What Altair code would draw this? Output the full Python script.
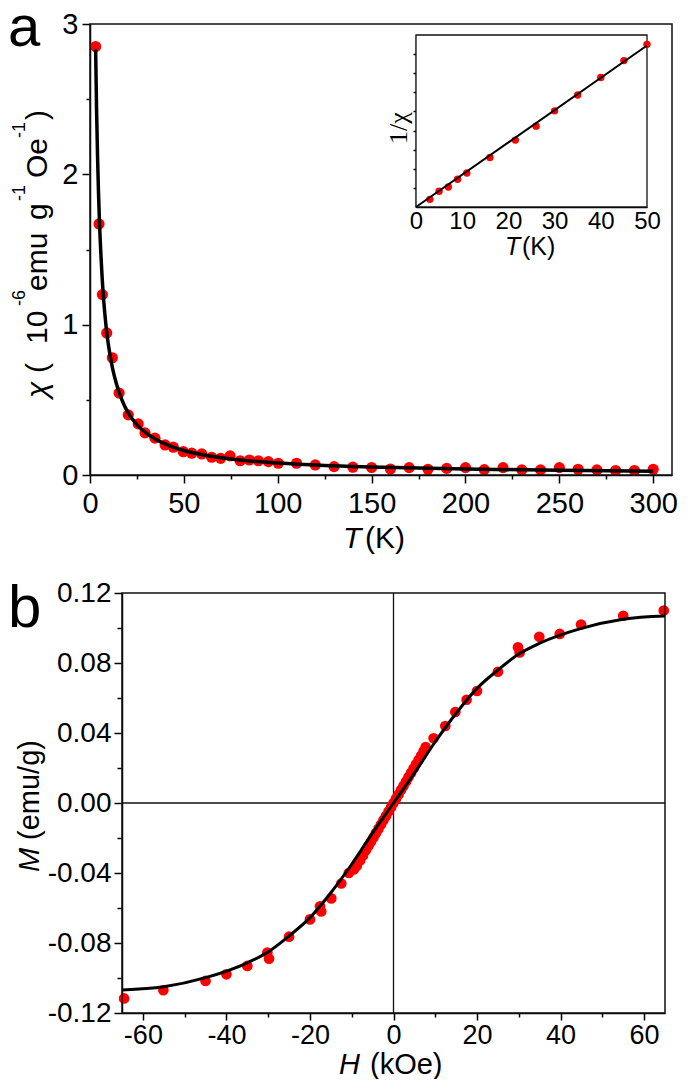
import altair as alt
import pandas as pd

# ---------------- Panel a: chi vs T ----------------
chi_T = [3, 4.8, 6.6, 8.9, 11.9, 15.5, 20.4, 25.7, 29.3, 34.6,
         40, 44.4, 49.7, 54.2, 59.5, 64.8, 69.6, 74.6, 80, 84.9,
         89.7, 95, 100.3, 110, 120, 130, 140, 150, 160, 170,
         180, 190, 200, 210, 220, 230, 240, 250, 260, 270,
         280, 290, 300]
chi_val = [2.85, 1.67, 1.20, 0.945, 0.78, 0.545, 0.40, 0.34, 0.28, 0.245,
           0.20, 0.185, 0.155, 0.145, 0.14, 0.118, 0.111, 0.127, 0.095, 0.10,
           0.095, 0.089, 0.078, 0.078, 0.067, 0.056, 0.052, 0.05, 0.04, 0.049,
           0.038, 0.044, 0.049, 0.036, 0.049, 0.034, 0.034, 0.049, 0.038, 0.034,
           0.03, 0.03, 0.038]
fit_T = [3, 3.5, 4, 4.5, 5, 6, 7, 8, 9, 10, 12, 14, 17, 20, 25, 30, 35, 40,
         50, 60, 70, 80, 100, 125, 150, 200, 250, 300]
fit_chi = [2.83, 2.43, 2.13, 1.89, 1.70, 1.42, 1.21, 1.06, 0.94, 0.85, 0.71,
           0.61, 0.50, 0.42, 0.335, 0.278, 0.238, 0.207, 0.163, 0.135, 0.115,
           0.100, 0.080, 0.064, 0.054, 0.040, 0.031, 0.025]

# inset: 1/chi vs T (arbitrary units)
inv_T = [3, 5, 7, 9, 11, 16, 21.5, 26, 30, 35, 40, 45, 50]
inv_chi = [0.40, 0.82, 1.05, 1.45, 1.78, 2.59, 3.50, 4.23, 5.03, 5.86, 6.78, 7.66, 8.51]
inv_fit_T = [0, 50]
inv_fit = [0, 8.45]

# ---------------- Panel b: M vs H ----------------
H_pts = [-64.5, -55.1, -45.0, -40.0, -35.0, -30.2, -29.8, -25.0, -20.0, -17.6,
         -17.3, -14.9, -12.5, -10.7, -9.5, -8.8, -8.0, -7.3, -6.6, -6.0,
         -5.4, -4.8, -4.2, -3.6, -3.0, -2.4, -1.8, -1.2, -0.6, 0.0,
         0.6, 1.2, 1.8, 2.4, 3.0, 3.6, 4.2, 4.8, 5.4, 6.0,
         6.6, 7.2, 7.7, 9.6, 12.4, 14.8, 17.5, 20.0, 25.0, 29.8,
         30.2, 34.9, 39.8, 44.9, 55.0, 64.7]
M_pts = [-0.1117, -0.1070, -0.1017, -0.0979, -0.0931, -0.0855, -0.0890, -0.0764, -0.0665, -0.0590,
         -0.0620, -0.0545, -0.0460, -0.0400, -0.0380, -0.0360, -0.0328, -0.0300, -0.0270, -0.0246,
         -0.0221, -0.0197, -0.0172, -0.0148, -0.0123, -0.0098, -0.0074, -0.0049, -0.0025, 0.0,
         0.0025, 0.0049, 0.0074, 0.0098, 0.0123, 0.0148, 0.0172, 0.0197, 0.0221, 0.0246,
         0.0270, 0.0295, 0.0320, 0.0370, 0.0440, 0.0520, 0.0590, 0.0640, 0.0750, 0.0890,
         0.0860, 0.0950, 0.0966, 0.1020, 0.1070, 0.1100]
fit_H = [-65, -55, -45, -35, -30, -25, -20, -15, -10, -5, 0,
         5, 10, 15, 20, 25, 30, 35, 45, 55, 65]
fit_M = [-0.1068, -0.1050, -0.0998, -0.0913, -0.0851, -0.0760, -0.0655, -0.0513, -0.0350, -0.0171, 0.0,
         0.0171, 0.0350, 0.0513, 0.0655, 0.0760, 0.0851, 0.0913, 0.0998, 0.1050, 0.1068]

# tick values
a_x_major = [0, 50, 100, 150, 200, 250, 300]
a_x_minor = [25, 75, 125, 175, 225, 275]
a_y_major = [0, 1, 2, 3]
a_y_minor = [0.5, 1.5, 2.5]
in_x_major = [0, 10, 20, 30, 40, 50]
in_y_ticks = [1, 2, 3, 4, 5, 6, 7, 8]
b_x_major = [-60, -40, -20, 0, 20, 40, 60]
b_x_minor = [-50, -30, -10, 10, 30, 50]
b_y_major = [-0.12, -0.08, -0.04, 0.0, 0.04, 0.08, 0.12]
b_y_minor = [-0.10, -0.06, -0.02, 0.02, 0.06, 0.10]

# domains
a_xdom, a_ydom = [0, 310], [0, 3]
in_xdom, in_ydom = [0, 50], [0, 9]
b_xdom, b_ydom = [-65, 65], [-0.12, 0.12]

W, H = 676, 1071
FONT = "Liberation Sans"
RED = "#ff0000"


def sc(dom, rng):
    return alt.Scale(domain=dom, range=rng, nice=False, zero=False)


sAx, sAy = sc(a_xdom, [82, 664]), sc(a_ydom, [467, 16])
sIx, sIy = sc(in_xdom, [408, 639]), sc(in_ydom, [199, 27])
sBx, sBy = sc(b_xdom, [114, 657]), sc(b_ydom, [1005, 585])

common_ax = dict(title=None, grid=False, labelFont=FONT, labelColor="black",
                 domainColor="black", tickColor="black", domainWidth=1.5,
                 tickWidth=1.5, labelFlush=False, labelOverlap=False)

MINUS = "\u2212"

# ---- panel a ----
df_a = pd.DataFrame({"T": chi_T, "chi": chi_val})
df_af = pd.DataFrame({"T": fit_T, "chi": fit_chi})
a_pts = alt.Chart(df_a).mark_circle(size=125, color=RED, opacity=1).encode(
    x=alt.X("T:Q", scale=sAx, axis=alt.Axis(values=a_x_major, orient="bottom", offset=467 - H,
                                            tickSize=8, labelPadding=6, labelFontSize=29, **common_ax)),
    y=alt.Y("chi:Q", scale=sAy, axis=alt.Axis(values=a_y_major, orient="left", offset=-82,
                                              tickSize=8, labelPadding=4, labelFontSize=29, **common_ax)),
)
a_fit = alt.Chart(df_af).mark_line(color="black", strokeWidth=3.5, interpolate="monotone").encode(
    x=alt.X("T:Q", scale=sAx, axis=None), y=alt.Y("chi:Q", scale=sAy, axis=None))

df_aframe = pd.DataFrame({"x0": [a_xdom[0]], "x1": [a_xdom[1]], "y0": [a_ydom[0]], "y1": [a_ydom[1]]})
a_frame = alt.Chart(df_aframe).mark_rect(fillOpacity=0, stroke="#111", strokeWidth=1.5).encode(
    x=alt.X("x0:Q", scale=sAx, axis=alt.Axis(values=a_x_minor, orient="bottom", offset=467 - H,
                                             tickSize=4, labels=False, domain=False, **common_ax)),
    x2="x1:Q",
    y=alt.Y("y0:Q", scale=sAy, axis=alt.Axis(values=a_y_minor, orient="left", offset=-82,
                                             tickSize=4, labels=False, domain=False, **common_ax)),
    y2="y1:Q",
)

# ---- inset ----
df_in = pd.DataFrame({"T": inv_T, "v": inv_chi})
df_inf = pd.DataFrame({"T": inv_fit_T, "v": inv_fit})
df_inframe = pd.DataFrame({"x0": [in_xdom[0]], "x1": [in_xdom[1]], "y0": [in_ydom[0]], "y1": [in_ydom[1]]})
in_frame = alt.Chart(df_inframe).mark_rect(fill="white", stroke="#111", strokeWidth=1.3).encode(
    x=alt.X("x0:Q", scale=sIx, axis=alt.Axis(values=in_x_major, orient="bottom", offset=199 - H,
                                             tickSize=0, labelPadding=2, labelFontSize=24, **common_ax)),
    x2="x1:Q",
    y=alt.Y("y0:Q", scale=sIy, axis=alt.Axis(values=in_y_ticks, orient="left", offset=-408,
                                             tickSize=3, labels=False, **common_ax)),
    y2="y1:Q",
)
in_pts = alt.Chart(df_in).mark_circle(size=55, color=RED, opacity=1).encode(
    x=alt.X("T:Q", scale=sIx, axis=None), y=alt.Y("v:Q", scale=sIy, axis=None))
in_fit = alt.Chart(df_inf).mark_line(color="black", strokeWidth=2).encode(
    x=alt.X("T:Q", scale=sIx, axis=None), y=alt.Y("v:Q", scale=sIy, axis=None))

# ---- panel b ----
df_b = pd.DataFrame({"H": H_pts, "M": M_pts})
df_bf = pd.DataFrame({"H": fit_H, "M": fit_M})
df_vz = pd.DataFrame({"H": [0.0], "M0": [b_ydom[0]], "M1": [b_ydom[1]]})
df_hz = pd.DataFrame({"H0": [b_xdom[0]], "H1": [b_xdom[1]], "M": [0.0]})
b_vz = alt.Chart(df_vz).mark_rule(color="#111", strokeWidth=1.3).encode(
    x=alt.X("H:Q", scale=sBx, axis=None), y=alt.Y("M0:Q", scale=sBy, axis=None), y2="M1:Q")
b_hz = alt.Chart(df_hz).mark_rule(color="#111", strokeWidth=1.3).encode(
    x=alt.X("H0:Q", scale=sBx, axis=None), x2="H1:Q", y=alt.Y("M:Q", scale=sBy, axis=None))
b_pts = alt.Chart(df_b).mark_circle(size=115, color=RED, opacity=1).encode(
    x=alt.X("H:Q", scale=sBx, axis=alt.Axis(values=b_x_major, orient="bottom", offset=1005 - H,
                                            tickSize=7, labelPadding=2, labelFontSize=27,
                                            labelExpr=f"replace(format(datum.value, 'd'), '{MINUS}', '-')",
                                            **common_ax)),
    y=alt.Y("M:Q", scale=sBy, axis=alt.Axis(values=b_y_major, orient="left", offset=-114,
                                            tickSize=8, labelPadding=3, labelFontSize=28,
                                            labelExpr=f"replace(format(datum.value, '.2f'), '{MINUS}', '-')",
                                            **common_ax)),
)
b_fit = alt.Chart(df_bf).mark_line(color="black", strokeWidth=3, interpolate="monotone").encode(
    x=alt.X("H:Q", scale=sBx, axis=None), y=alt.Y("M:Q", scale=sBy, axis=None))

df_bframe = pd.DataFrame({"x0": [b_xdom[0]], "x1": [b_xdom[1]], "y0": [b_ydom[0]], "y1": [b_ydom[1]]})
b_frame = alt.Chart(df_bframe).mark_rect(fillOpacity=0, stroke="#111", strokeWidth=1.5).encode(
    x=alt.X("x0:Q", scale=sBx, axis=alt.Axis(values=b_x_minor, orient="bottom", offset=1005 - H,
                                             tickSize=4, labels=False, domain=False, **common_ax)),
    x2="x1:Q",
    y=alt.Y("y0:Q", scale=sBy, axis=alt.Axis(values=b_y_minor, orient="left", offset=-114,
                                             tickSize=5, labels=False, domain=False, **common_ax)),
    y2="y1:Q",
)


# ---- text labels ----
def label(txt, x, y, size, style="normal", angle=0, align="left", baseline="alphabetic", font=FONT):
    df = pd.DataFrame({"t": [txt]})
    return alt.Chart(df).mark_text(fontSize=size, fontStyle=style, angle=angle, align=align,
                                   baseline=baseline, font=font, color="black").encode(
        x=alt.value(x), y=alt.value(y), text="t:N")


YB, YS = 39, 17  # baselines of the rotated y title: main text, superscripts
texts = [
    label("a", 0, 38, 58),
    label("b", 0, 619, 60),
    # panel a axis titles
    label("T", 335, 540, 30, style="italic"),
    label("(K)", 357, 540, 30),
    label("\u03c7", YB, 390, 30, style="italic", angle=270),
    label("(", YB, 365, 30, angle=270),
    label("10", YB, 336, 30, angle=270),
    label("-6", YS, 298, 18, angle=270),
    label("emu", YB, 283, 30, angle=270),
    label("g", YB, 212, 30, angle=270),
    label("-1", YS, 193, 18, angle=270),
    label("Oe", YB, 170, 30, angle=270),
    label("-1", YS, 130, 18, angle=270),
    label(")", YB, 112, 30, angle=270),
    # inset titles
    label("T", 497, 247, 25, style="italic"),
    label("(K)", 514, 247, 25),
    label("1/\u03c7", 391, 120, 26, angle=270, align="center", baseline="middle", font="Liberation Serif"),
    # panel b axis titles
    label("H", 331, 1066, 29, style="italic"),
    label("(kOe)", 362, 1066, 29),
    label("M", 31, 864, 29, style="italic", angle=270),
    label("(emu/g)", 31, 832, 29, angle=270),
]

chart = alt.layer(
    a_pts, a_fit, a_frame,
    in_frame, in_pts, in_fit,
    b_vz, b_hz, b_pts, b_fit, b_frame,
    *texts,
).resolve_scale(
    x="independent", y="independent"
).resolve_axis(
    x="independent", y="independent"
).properties(
    width=W, height=H, autosize=alt.AutoSizeParams(type="none"), padding=0
).configure_view(stroke=None)

chart.save("out.html", embed_options={"renderer": "svg", "actions": False})
